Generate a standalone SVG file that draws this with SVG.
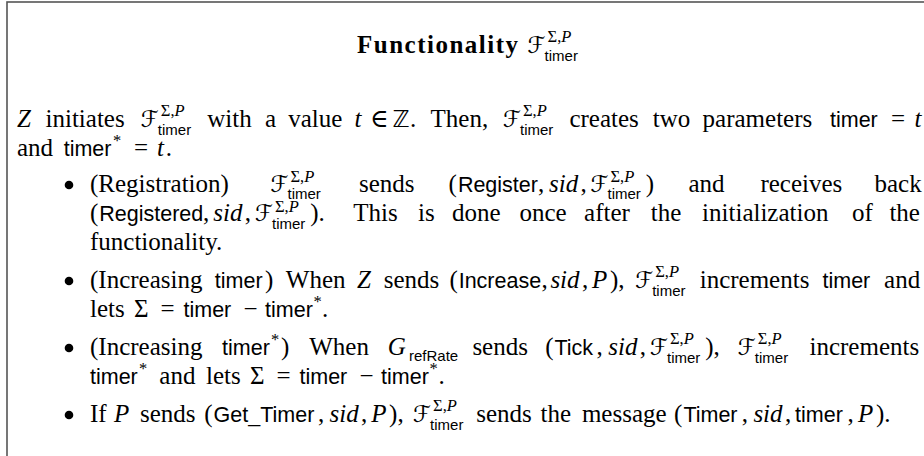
<svg xmlns="http://www.w3.org/2000/svg" width="924" height="456" viewBox="0 0 924 456">
<style>
text{font-family:"Liberation Serif","DejaVu Serif",serif;font-size:25px;fill:#000}
.b{font-weight:bold}
.it{font-style:italic}
.sf{font-family:"Liberation Sans","DejaVu Sans",sans-serif;font-size:21.5px}
.cal{font-family:"DejaVu Sans",sans-serif;font-size:23px}
.bb{font-family:"DejaVu Sans",sans-serif;font-size:23px}
.sup{font-size:16.5px}
.sub{font-family:"Liberation Sans","DejaVu Sans",sans-serif;font-size:15px}
.frame{fill:none;stroke:#555;stroke-width:1.6}
.bullet{fill:#000}
</style>
<rect class="frame" x="7" y="2" width="1000" height="1000"/>

<g id="title">
<text class="b" x="357" y="53" textLength="161" lengthAdjust="spacing">Functionality</text>
<text><tspan class="cal" x="527.6" y="53">ℱ</tspan><tspan class="sup" x="547.6" y="42">Σ,<tspan class="it">P</tspan></tspan><tspan class="sub" x="544.6" y="61">timer</tspan></text>
</g>

<g id="intro">
<text><tspan class="it" x="17" y="127">Z</tspan><tspan x="45.5" y="127">initiates</tspan><tspan class="cal" x="140.8" y="127">ℱ</tspan><tspan class="sup" x="160.8" y="116">Σ,<tspan class="it">P</tspan></tspan><tspan class="sub" x="157.8" y="135">timer</tspan><tspan x="207.2" y="127">with</tspan><tspan x="265" y="127">a</tspan><tspan x="288.2" y="127">value</tspan><tspan class="it" x="354.6" y="127">t</tspan><tspan x="369.9" y="127">∈</tspan><tspan class="bb" x="392.6" y="127">ℤ</tspan><tspan x="409.9" y="127">.</tspan><tspan x="430.6" y="127">Then,</tspan><tspan class="cal" x="503" y="127">ℱ</tspan><tspan class="sup" x="523" y="116">Σ,<tspan class="it">P</tspan></tspan><tspan class="sub" x="520" y="135">timer</tspan><tspan x="569.4" y="127">creates</tspan><tspan x="652.8" y="127">two</tspan><tspan x="702.6" y="127">parameters</tspan><tspan class="sf" x="830" y="127">timer</tspan><tspan x="891" y="127">=</tspan><tspan class="it" x="914.4" y="127">t</tspan></text>
<text><tspan x="17" y="156">and</tspan><tspan class="sf" x="63.7" y="156">timer</tspan><tspan class="sup" x="113" y="146">*</tspan><tspan x="134" y="156">=</tspan><tspan class="it" x="157.1" y="156">t</tspan><tspan x="165.8" y="156">.</tspan></text>
</g>

<g id="item-registration">
<circle class="bullet" cx="69" cy="185" r="4.3"/>
<text><tspan x="90" y="192">(Registration)</tspan><tspan class="cal" x="270.5" y="192">ℱ</tspan><tspan class="sup" x="290.5" y="181.5">Σ,<tspan class="it">P</tspan></tspan><tspan class="sub" x="287.5" y="199">timer</tspan><tspan x="359" y="192">sends</tspan><tspan x="448.6" y="192">(</tspan><tspan class="sf" x="457.9" y="192">Register</tspan><tspan x="538" y="192">,</tspan><tspan class="it" x="549" y="192">sid</tspan><tspan x="580.5" y="192">,</tspan><tspan class="cal" x="590.5" y="192">ℱ</tspan><tspan class="sup" x="610.5" y="181.5">Σ,<tspan class="it">P</tspan></tspan><tspan class="sub" x="607.5" y="199">timer</tspan><tspan x="645.7" y="192">)</tspan><tspan x="688.4" y="192">and</tspan><tspan x="760.4" y="192">receives</tspan><tspan x="874.5" y="192">back</tspan></text>
<text><tspan x="90" y="221">(</tspan><tspan class="sf" x="99.3" y="221">Registered</tspan><tspan x="203" y="221">,</tspan><tspan class="it" x="213.3" y="221">sid</tspan><tspan x="244.8" y="221">,</tspan><tspan class="cal" x="255" y="221">ℱ</tspan><tspan class="sup" x="275" y="211.5">Σ,<tspan class="it">P</tspan></tspan><tspan class="sub" x="272" y="228.5">timer</tspan><tspan x="310.2" y="221">).</tspan><tspan x="353.2" y="221">This</tspan><tspan x="418" y="221">is</tspan><tspan x="452.1" y="221">done</tspan><tspan x="519.4" y="221">once</tspan><tspan x="584.1" y="221">after</tspan><tspan x="650.8" y="221">the</tspan><tspan x="702.1" y="221">initialization</tspan><tspan x="852.1" y="221">of</tspan><tspan x="889.4" y="221">the</tspan></text>
<text x="90" y="250">functionality.</text>
</g>

<g id="item-increasing-timer">
<circle class="bullet" cx="69" cy="281" r="4.3"/>
<text><tspan x="90" y="288">(Increasing</tspan><tspan class="sf" x="214.8" y="288">timer</tspan><tspan x="265" y="288">)</tspan><tspan x="285.8" y="288">When</tspan><tspan class="it" x="357.1" y="288">Z</tspan><tspan x="383.8" y="288">sends</tspan><tspan x="449.4" y="288">(</tspan><tspan class="sf" x="458.7" y="288">Increase</tspan><tspan x="541.5" y="288">,</tspan><tspan class="it" x="550.4" y="288">sid</tspan><tspan x="581.9" y="288">,</tspan><tspan class="it" x="592.1" y="288">P</tspan><tspan x="609.9" y="288">),</tspan><tspan class="cal" x="635.2" y="288">ℱ</tspan><tspan class="sup" x="655.2" y="277">Σ,<tspan class="it">P</tspan></tspan><tspan class="sub" x="652.2" y="296">timer</tspan><tspan x="699.7" y="288">increments</tspan><tspan class="sf" x="822.5" y="288">timer</tspan><tspan x="884.1" y="288">and</tspan></text>
<text><tspan x="90" y="317">lets</tspan><tspan x="134.1" y="317">Σ</tspan><tspan x="160.5" y="317">=</tspan><tspan class="sf" x="183.5" y="317">timer</tspan><tspan x="243.4" y="317">−</tspan><tspan class="sf" x="265.1" y="317">timer</tspan><tspan class="sup" x="313.5" y="307">*</tspan><tspan x="322" y="317">.</tspan></text>
</g>

<g id="item-increasing-timer-star">
<circle class="bullet" cx="69" cy="348" r="4.3"/>
<text><tspan x="90" y="355">(Increasing</tspan><tspan class="sf" x="222.1" y="355">timer</tspan><tspan class="sup" x="271" y="345">*</tspan><tspan x="281" y="355">)</tspan><tspan x="309.2" y="355">When</tspan><tspan class="it" x="387.8" y="355">G</tspan><tspan class="sub" x="409" y="361">refRate</tspan><tspan x="472.4" y="355">sends</tspan><tspan x="545.2" y="355">(</tspan><tspan class="sf" x="554.5" y="355">Tick</tspan><tspan x="596.6" y="355">,</tspan><tspan class="it" x="608.3" y="355">sid</tspan><tspan x="639.8" y="355">,</tspan><tspan class="cal" x="650" y="355">ℱ</tspan><tspan class="sup" x="670" y="344">Σ,<tspan class="it">P</tspan></tspan><tspan class="sub" x="667" y="363">timer</tspan><tspan x="705.2" y="355">),</tspan><tspan class="cal" x="737.8" y="355">ℱ</tspan><tspan class="sup" x="757.8" y="344">Σ,<tspan class="it">P</tspan></tspan><tspan class="sub" x="754.8" y="363">timer</tspan><tspan x="809.5" y="355">increments</tspan></text>
<text><tspan class="sf" x="90" y="384">timer</tspan><tspan class="sup" x="139" y="374">*</tspan><tspan x="159.3" y="384">and</tspan><tspan x="206" y="384">lets</tspan><tspan x="250.1" y="384">Σ</tspan><tspan x="276.4" y="384">=</tspan><tspan class="sf" x="299.5" y="384">timer</tspan><tspan x="359.4" y="384">−</tspan><tspan class="sf" x="381.1" y="384">timer</tspan><tspan class="sup" x="429.5" y="374">*</tspan><tspan x="438.5" y="384">.</tspan></text>
</g>

<g id="item-get-timer">
<circle class="bullet" cx="69" cy="415" r="4.3"/>
<text><tspan x="90" y="422">If</tspan><tspan class="it" x="114" y="422">P</tspan><tspan x="140" y="422">sends</tspan><tspan x="204.3" y="422">(</tspan><tspan class="sf" x="213.6" y="422">Get_Timer</tspan><tspan x="317.9" y="422">,</tspan><tspan class="it" x="329.6" y="422">sid</tspan><tspan x="361.1" y="422">,</tspan><tspan class="it" x="371.3" y="422">P</tspan><tspan x="389.1" y="422">),</tspan><tspan class="cal" x="413.1" y="422">ℱ</tspan><tspan class="sup" x="433.1" y="411">Σ,<tspan class="it">P</tspan></tspan><tspan class="sub" x="430.1" y="430">timer</tspan><tspan x="476.3" y="422">sends</tspan><tspan x="540.6" y="422">the</tspan><tspan x="581.9" y="422">message</tspan><tspan x="674.1" y="422">(</tspan><tspan class="sf" x="683.4" y="422">Timer</tspan><tspan x="741.7" y="422">,</tspan><tspan class="it" x="753.4" y="422">sid</tspan><tspan x="784.9" y="422">,</tspan><tspan class="sf" x="795.1" y="422">timer</tspan><tspan x="847.4" y="422">,</tspan><tspan class="it" x="858.1" y="422">P</tspan><tspan x="875.9" y="422">).</tspan></text>
</g>
</svg>
